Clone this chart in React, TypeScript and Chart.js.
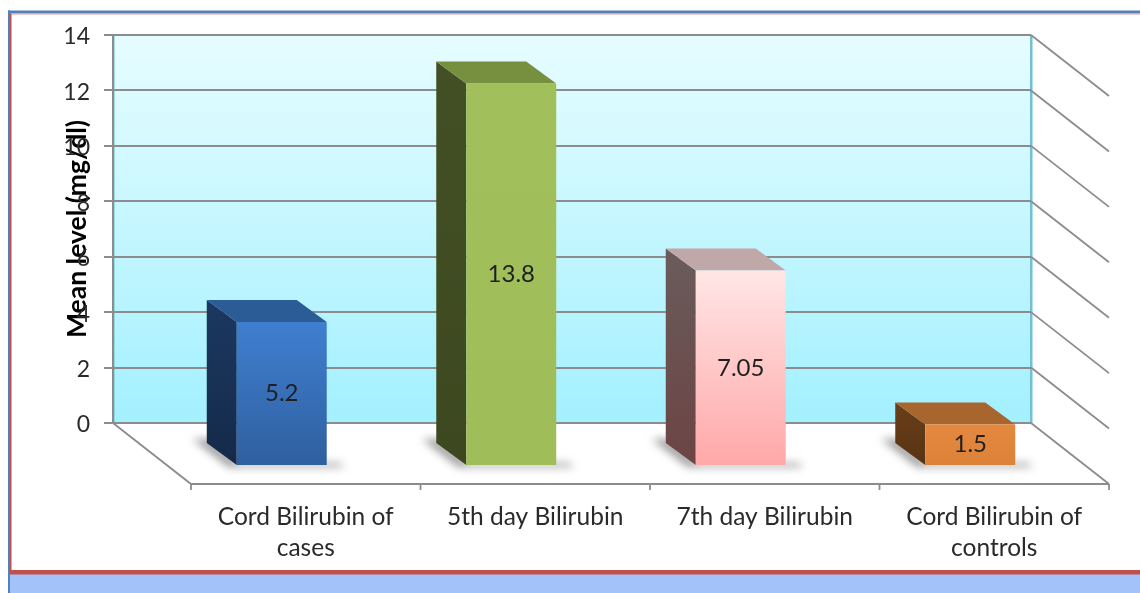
import React, { useEffect, useRef } from "react";
import { Chart, registerables } from "chart.js";

Chart.register(...registerables);

const categories = [
  ["Cord Bilirubin of", "cases"],
  ["5th day Bilirubin"],
  ["7th day Bilirubin"],
  ["Cord Bilirubin of", "controls"],
];
const values = [5.2, 13.8, 7.05, 1.5];
const valueLabels = ["5.2", "13.8", "7.05", "1.5"];
const axisTitle = "Mean level (mg/dl)";

const frontTop = ["#3f7fd0", "#a1c05c", "#ffe6e6", "#e4893f"];
const frontBottom = ["#2f5f9f", "#9fbe5a", "#ffa8a8", "#dc8238"];
const sideTop = ["#1c3860", "#434f24", "#6a5c5c", "#693f18"];
const sideBottom = ["#142a4a", "#3d4820", "#6c4444", "#573213"];
const topColor = ["#2c5c96", "#76903f", "#c0a8a8", "#a8652d"];

const FONT = "Lato, Carlito, sans-serif";
const DX = 54; // front face of a bar, from its slot on the back wall
const DY = 43;
const DEPTH_X = 30;
const DEPTH_Y = 22;
const WALL_X = 78;
const WALL_Y = 61;
const GREY = "#8c8c8c";

const scenePlugin = {
  id: "scene",
  beforeDraw(chart: any) {
    const { ctx, chartArea: a, scales } = chart;
    ctx.save();
    ctx.fillStyle = "#ffffff";
    ctx.fillRect(0, 0, chart.width, chart.height);
    // slide frame
    ctx.fillStyle = "#a4c2fa";
    ctx.fillRect(8, 574, chart.width, chart.height - 574);
    ctx.fillStyle = "#4f81bd";
    ctx.fillRect(8, 10.5, chart.width, 3);
    ctx.fillRect(8, 10.5, 2, chart.height);
    ctx.fillStyle = "#e39a98";
    ctx.fillRect(10, 13.5, chart.width, 1);
    ctx.fillStyle = "#c0504d";
    ctx.fillRect(10, 13.5, 1.5, 557);
    ctx.fillStyle = "#c0504d";
    ctx.fillRect(10, 570, chart.width, 4.5);
    // back wall
    const g = ctx.createLinearGradient(0, a.top, 0, a.bottom);
    g.addColorStop(0, "#e6fdff");
    g.addColorStop(1, "#a3f0ff");
    ctx.fillStyle = g;
    ctx.fillRect(a.left, a.top, a.right - a.left, a.bottom - a.top);
    ctx.fillStyle = "#6fc1d3";
    ctx.fillRect(a.right - 1, a.top, 2.5, a.bottom - a.top);
    ctx.fillRect(a.left, a.top, 1.5, a.bottom - a.top);
    // side wall lines and floor
    ctx.strokeStyle = GREY;
    ctx.lineWidth = 1.8;
    ctx.beginPath();
    for (const t of scales.y.ticks) {
      const y = scales.y.getPixelForValue(t.value);
      ctx.moveTo(a.right, y);
      ctx.lineTo(a.right + WALL_X, y + WALL_Y);
    }
    ctx.moveTo(a.left, a.bottom);
    ctx.lineTo(a.left + WALL_X, a.bottom + WALL_Y);
    ctx.lineTo(a.right + WALL_X, a.bottom + WALL_Y);
    const step = (a.right - a.left) / categories.length;
    for (let i = 0; i <= categories.length; i++) {
      const x = a.left + WALL_X + step * i;
      ctx.moveTo(x, a.bottom + WALL_Y);
      ctx.lineTo(x, a.bottom + WALL_Y + 6);
    }
    ctx.stroke();
    ctx.restore();
  },
  beforeDatasetDraw(chart: any, args: any) {
    const { ctx } = chart;
    const els = chart.getDatasetMeta(args.index).data;
    ctx.save();
    els.forEach((el: any, i: number) => {
      const p = el.getProps(["x", "y", "base", "width"], true);
      const x0 = p.x - p.width / 2 + DX;
      const x1 = p.x + p.width / 2 + DX;
      const yt = p.y + DY;
      const yb = p.base + DY;
      // floor shadow
      ctx.save();
      ctx.filter = "blur(4px)";
      ctx.fillStyle = "#9a9a9a";
      ctx.beginPath();
      ctx.moveTo(x0 - 44, yb - 26);
      ctx.lineTo(x0 - 28, yb - 26);
      ctx.lineTo(x0 + 2, yb - 2);
      ctx.lineTo(x1 + 12, yb - 2);
      ctx.lineTo(x1 + 18, yb + 2);
      ctx.lineTo(x0 - 8, yb + 2);
      ctx.closePath();
      ctx.fill();
      ctx.restore();
      // side face
      const sg = ctx.createLinearGradient(0, yt - DEPTH_Y, 0, yb);
      sg.addColorStop(0, sideTop[i]);
      sg.addColorStop(1, sideBottom[i]);
      ctx.fillStyle = sg;
      ctx.beginPath();
      ctx.moveTo(x0, yt);
      ctx.lineTo(x0, yb);
      ctx.lineTo(x0 - DEPTH_X, yb - DEPTH_Y);
      ctx.lineTo(x0 - DEPTH_X, yt - DEPTH_Y);
      ctx.closePath();
      ctx.fill();
      // top face
      ctx.fillStyle = topColor[i];
      ctx.beginPath();
      ctx.moveTo(x0, yt);
      ctx.lineTo(x1, yt);
      ctx.lineTo(x1 - DEPTH_X, yt - DEPTH_Y);
      ctx.lineTo(x0 - DEPTH_X, yt - DEPTH_Y);
      ctx.closePath();
      ctx.fill();
    });
    // the library's own bars become the front faces
    ctx.translate(DX, DY);
  },
  afterDatasetDraw(chart: any, args: any) {
    const { ctx } = chart;
    ctx.restore();
    const els = chart.getDatasetMeta(args.index).data;
    ctx.save();
    ctx.fillStyle = "#1f1f1f";
    ctx.font = `24px ${FONT}`;
    ctx.textAlign = "center";
    ctx.textBaseline = "middle";
    els.forEach((el: any, i: number) => {
      const p = el.getProps(["x", "y", "base"], true);
      ctx.fillText(valueLabels[i], p.x + DX, (p.y + p.base) / 2 + DY);
    });
    ctx.restore();
  },
};

export default function App() {
  const ref = useRef<HTMLCanvasElement>(null);
  useEffect(() => {
    const chart = new Chart(ref.current as HTMLCanvasElement, {
      type: "bar",
      plugins: [scenePlugin],
      data: {
        labels: categories,
        datasets: [
          {
            data: values,
            clip: false,
            categoryPercentage: 1,
            barPercentage: 0.392,
            borderRadius: 1,
            backgroundColor: (c: any) => {
              const i = c.dataIndex;
              const area = c.chart.chartArea;
              if (i === undefined || !area) return frontTop[0];
              const y = c.chart.scales.y;
              const g = c.chart.ctx.createLinearGradient(
                0,
                y.getPixelForValue(values[i]),
                0,
                y.getPixelForValue(0)
              );
              g.addColorStop(0, frontTop[i]);
              g.addColorStop(1, frontBottom[i]);
              return g;
            },
          } as any,
        ],
      },
      options: {
        responsive: false,
        animation: false,
        layout: { padding: { top: 35, right: 109, left: 0, bottom: 0 } },
        plugins: { legend: { display: false }, tooltip: { enabled: false } },
        scales: {
          x: {
            afterFit: (s: any) => {
              s.height = 170;
            },
            grid: { display: false },
            border: { display: false },
            ticks: {
              autoSkip: false,
              maxRotation: 0,
              minRotation: 0,
              labelOffset: WALL_X,
              padding: 70,
              color: "#2a2a2a",
              font: { family: FONT, size: 24.5, lineHeight: 1.28 },
            },
          },
          y: {
            min: 0,
            max: 14,
            afterFit: (s: any) => {
              s.width = 113;
            },
            grid: { color: GREY, lineWidth: 2, tickLength: 9 },
            border: { color: GREY, width: 2 },
            ticks: {
              stepSize: 2,
              padding: 14,
              labelOffset: 2,
              color: "#2a2a2a",
              font: { family: FONT, size: 23 },
            },
            title: {
              display: true,
              text: axisTitle,
              color: "#000000",
              padding: { top: 62, bottom: 0 },
              font: { family: FONT, size: 26.5, weight: "bold" },
            },
          },
        },
      },
    } as any);
    return () => chart.destroy();
  }, []);
  return (
    <div style={{ position: "fixed", left: 0, top: 0, width: 1140, height: 593 }}>
      <canvas
        ref={ref}
        width={1140}
        height={593}
        style={{ display: "block", filter: "blur(0.6px)" }}
      />
    </div>
  );
}
